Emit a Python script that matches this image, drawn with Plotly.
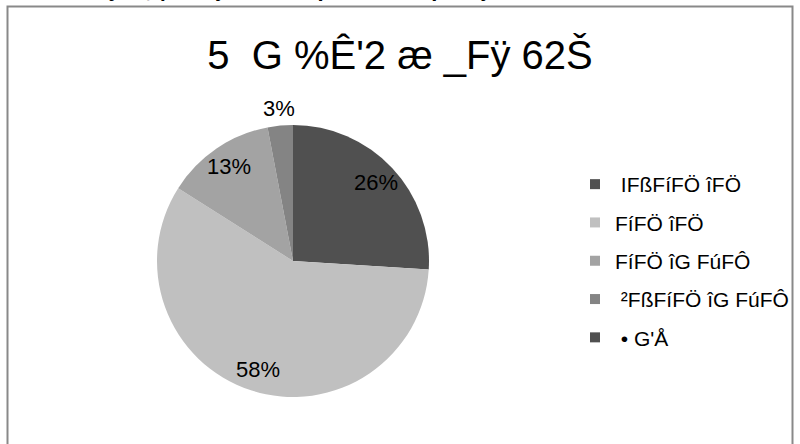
import math
import plotly.graph_objects as go

# ---- data ----
categories = [" IFßFíFÖ îFÖ", "FíFÖ îFÖ", "FíFÖ îG FúFÔ", " ²FßFíFÖ îG FúFÔ", " • G'Å"]
values = [26, 58, 13, 3, 0]
colors = ["#505050", "#c0c0c0", "#a3a3a3", "#848484", "#505050"]
title_text = "5  G %Ê'2 æ _Fÿ 62Š"
header_text = "6.2.2 æ _Fÿ.F ¸ ¦   FaÇÆ a 62Š p. G ÆG F p. ¶ Ç F G"

label_place = ["inside", "inside", "inside", "outside", "inside"]

FONT = "Liberation Sans, Arial, sans-serif"
W, H = 800, 444

# pie geometry (pixels)
CX, CY, R = 293, 261, 136
dom_x = [(CX - R) / W, (CX + R) / W]
dom_y = [1 - (CY + R) / H, 1 - (CY - R) / H]

fig = go.Figure()
fig.add_trace(go.Pie(
    labels=categories, values=values,
    textinfo="none",
    sort=False, direction="clockwise", rotation=0,
    marker=dict(colors=colors, line=dict(width=0)),
    showlegend=False,
    domain=dict(x=dom_x, y=dom_y),
    hoverinfo="label+percent",
))

# data labels placed along each slice bisector
total = sum(values)
annotations = []
cum = 0
for v, place in zip(values, label_place):
    if v > 0:
        mid = (cum + v / 2) / total * 2 * math.pi
        f = 0.84 if place == "inside" else 1.13
        px = CX + f * R * math.sin(mid)
        py = CY - f * R * math.cos(mid)
        annotations.append(dict(
            text=f"{v}%", xref="paper", yref="paper",
            x=px / W, y=1 - py / H, xanchor="center", yanchor="middle",
            showarrow=False, font=dict(family=FONT, size=22, color="black")))
    cum += v

annotations.append(dict(
    text=f"<b>{header_text}</b>", xref="paper", yref="paper",
    x=0, y=1, xanchor="left", yanchor="bottom", yshift=-3,
    showarrow=False, font=dict(family=FONT, size=22, color="black")))

# legend entries
for i, (c, col) in enumerate(zip(categories, colors)):
    fig.add_trace(go.Scatter(
        x=[None], y=[None], mode="markers", name=c,
        legendgroup=f"g{i}",
        marker=dict(symbol="square", size=10, color=col),
        showlegend=True,
    ))

fig.update_layout(
    width=W, height=H,
    margin=dict(l=0, r=0, t=0, b=0, autoexpand=False),
    paper_bgcolor="white", plot_bgcolor="white",
    xaxis=dict(visible=False), yaxis=dict(visible=False),
    title=dict(text=title_text, x=0.5, xanchor="center",
               y=1 - 55 / H, yanchor="middle",
               font=dict(family=FONT, size=40, color="black")),
    legend=dict(x=575 / W, y=1 - 164 / H, xanchor="left", yanchor="top",
                font=dict(family=FONT, size=21, color="black"),
                tracegroupgap=8, traceorder="grouped",
                bgcolor="rgba(0,0,0,0)"),
    shapes=[dict(type="rect", xref="paper", yref="paper",
                 x0=7.5 / W, x1=792.5 / W, y0=-0.05, y1=1 - 6.5 / H,
                 line=dict(color="#898989", width=2), fillcolor="rgba(0,0,0,0)",
                 layer="below")],
    annotations=annotations,
)

css_js = (
    "var s=document.createElement('style');"
    "s.innerHTML='html,body{margin:0;padding:0;overflow:hidden;height:444px;width:800px}"
    " .plotly-graph-div{display:block}';"
    "document.head.appendChild(s);"
)

fig.write_html("out.html", config={"displayModeBar": False}, post_script=css_js)
